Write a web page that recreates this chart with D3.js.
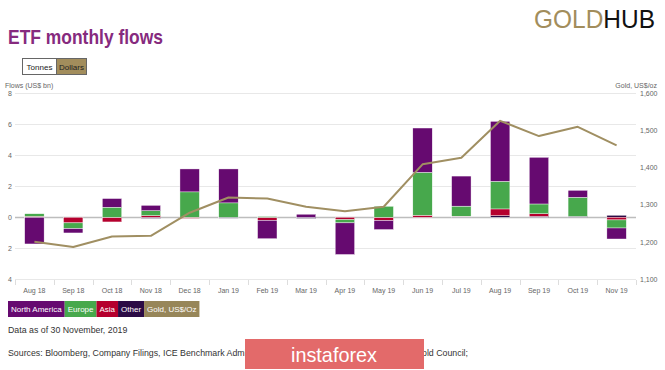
<!DOCTYPE html>
<html><head><meta charset="utf-8">
<script src="https://cdn.jsdelivr.net/npm/d3@7/dist/d3.min.js"></script>
<style>body{margin:0;background:#fff}svg{display:block;font-family:"Liberation Sans",Arial,sans-serif}</style>
</head><body><svg id="c" width="665" height="370"></svg>
<script>
const months = ["Aug 18","Sep 18","Oct 18","Nov 18","Dec 18","Jan 19","Feb 19","Mar 19","Apr 19","May 19","Jun 19","Jul 19","Aug 19","Sep 19","Oct 19","Nov 19"];
const northAmerica = [-1.72,-0.28,0.56,0.34,1.48,2.19,-1.18,0.20,-2.04,-0.58,2.86,1.94,3.87,3.01,0.45,-0.71];
const europe       = [0.17,-0.37,0.65,0.32,1.64,0.93,0.05,0,-0.21,0.71,2.77,0.65,1.78,0.63,1.23,-0.52];
const asia         = [0.06,-0.36,-0.30,0.11,-0.07,0,-0.20,0,-0.15,-0.21,0.13,0.04,0.43,0.17,0,-0.17];
const other        = [0,0,0,-0.07,0,-0.06,0,-0.07,0,0,0,0.03,0.11,0.06,0.06,0.13];
const goldPrice    = [1201,1187,1215,1217,1279,1320,1317,1295,1283,1295,1409,1427,1526,1485,1510,1460];
const leftTicks  = [-4,-2,0,2,4,6,8];
const rightTicks = [1100,1200,1300,1400,1500,1600];

const colors = {northAmerica:"#660a70", europe:"#47a84c", asia:"#b5002e", other:"#2b0b45", gold:"#a08f62"};
const svg = d3.select("#c");

// header
svg.append("text").attr("x",8).attr("y",44).attr("font-size",21).attr("font-weight","bold")
  .attr("fill","#862a7e").attr("textLength",155).attr("lengthAdjust","spacingAndGlyphs").text("ETF monthly flows");
const logo = svg.append("text").attr("x",534).attr("y",28).attr("font-size",25)
  .attr("textLength",121).attr("lengthAdjust","spacingAndGlyphs");
logo.append("tspan").attr("fill","#a28d5c").text("GOLD");
logo.append("tspan").attr("fill","#111").text("HUB");

// buttons
svg.append("rect").attr("x",22.5).attr("y",58.5).attr("width",34).attr("height",16).attr("fill","#fff").attr("stroke","#666");
svg.append("text").attr("x",39.5).attr("y",69.5).attr("text-anchor","middle").attr("font-size",8).attr("fill","#222").text("Tonnes");
svg.append("rect").attr("x",56.5).attr("y",58.5).attr("width",30).attr("height",16).attr("fill","#a28d5c").attr("stroke","#666");
svg.append("text").attr("x",71.5).attr("y",69.5).attr("text-anchor","middle").attr("font-size",8).attr("fill","#222").text("Dollars");

// scales
const x = d3.scaleBand().domain(months).range([15,636]).paddingInner(0.5).paddingOuter(0.25);
const y = d3.scaleLinear().domain([-4,8]).range([279.3,93.3]);
const y2 = d3.scaleLinear().domain([1100,1600]).range([279.3,93.3]);

// axis titles
svg.append("text").attr("x",5).attr("y",88).attr("font-size",7).attr("fill","#666").text("Flows (US$ bn)");
svg.append("text").attr("x",657).attr("y",88).attr("text-anchor","end").attr("font-size",7).attr("fill","#666").text("Gold, US$/oz");

// grid
const grid = svg.append("g");
grid.selectAll("line").data(leftTicks).join("line")
  .attr("x1",15).attr("x2",636).attr("y1",d=>Math.round(y(d))+0.5).attr("y2",d=>Math.round(y(d))+0.5)
  .attr("stroke",d=>d===0?"#bdbdbd":"#e8e8e8").attr("stroke-width",d=>d===0?1.6:1);
svg.append("g").selectAll("text").data(leftTicks).join("text")
  .attr("x",12).attr("y",d=>y(d)+2.5).attr("text-anchor","end").attr("font-size",7).attr("fill","#666")
  .text(d=>Math.abs(d));
svg.append("g").selectAll("text").data(rightTicks).join("text")
  .attr("x",640).attr("y",d=>y2(d)+2.5).attr("font-size",7).attr("fill","#666")
  .text(d=>d3.format(",")(d));

// x axis
const step = x.step();
const bounds = d3.range(months.length+1).map(i=>15+i*step);
svg.append("g").selectAll("line").data(bounds).join("line")
  .attr("x1",d=>Math.round(d)+0.5).attr("x2",d=>Math.round(d)+0.5).attr("y1",280).attr("y2",285).attr("stroke","#ddd");
svg.append("g").selectAll("text").data(months).join("text")
  .attr("x",d=>x(d)+x.bandwidth()/2).attr("y",293).attr("text-anchor","middle").attr("font-size",7).attr("fill","#666").text(d=>d);

// stacked bars
const rows = months.map((m,i)=>({month:m, other:other[i], asia:asia[i], europe:europe[i], northAmerica:northAmerica[i]}));
const keys = ["other","asia","europe","northAmerica"];
const stacked = d3.stack().keys(keys).offset(d3.stackOffsetDiverging)(rows);
svg.append("g").selectAll("g").data(stacked).join("g").attr("fill",s=>colors[s.key])
  .selectAll("rect").data(s=>s).join("rect")
  .attr("x",d=>x(d.data.month)).attr("width",x.bandwidth())
  .attr("y",d=>y(Math.max(d[0],d[1]))).attr("height",d=>Math.abs(y(d[0])-y(d[1])))
  .attr("stroke","#fff").attr("stroke-width",0.4);

// gold line
const line = d3.line().x((d,i)=>x(months[i])+x.bandwidth()/2).y(d=>y2(d));
svg.append("path").datum(goldPrice).attr("d",line).attr("fill","none").attr("stroke",colors.gold).attr("stroke-width",2).attr("stroke-linejoin","round");

// legend
const legendItems = [["North America",colors.northAmerica],["Europe",colors.europe],["Asia",colors.asia],["Other",colors.other],["Gold, US$/Oz","#978659"]];
let lx = 8;
legendItems.forEach(([label,col])=>{
  const g = svg.append("g");
  const r = g.append("rect").attr("x",lx).attr("y",301).attr("height",16).attr("fill",col);
  const t = g.append("text").attr("x",lx+3).attr("y",312).attr("font-size",8).attr("fill","#fff").text(label);
  const w = t.node().getComputedTextLength()+6;
  r.attr("width",w);
  lx += w;
});

// footer
svg.append("text").attr("x",8).attr("y",333).attr("font-size",8.8).attr("fill","#333").text("Data as of 30 November, 2019");
svg.append("text").attr("x",8).attr("y",356).attr("font-size",8.8).attr("fill","#333")
  .text("Sources: Bloomberg, Company Filings, ICE Benchmark Administration,");
svg.append("text").attr("x",468).attr("y",356).attr("text-anchor","end").attr("font-size",8.8).attr("fill","#333")
  .text("World Gold Council;");

// watermark overlay
svg.append("rect").attr("x",245).attr("y",339).attr("width",179).attr("height",30).attr("fill","#e36a6a");
svg.append("text").attr("x",334).attr("y",362).attr("text-anchor","middle").attr("font-size",21).attr("fill","#fff")
  .attr("textLength",86).attr("lengthAdjust","spacingAndGlyphs").text("instaforex");
</script></body></html>
